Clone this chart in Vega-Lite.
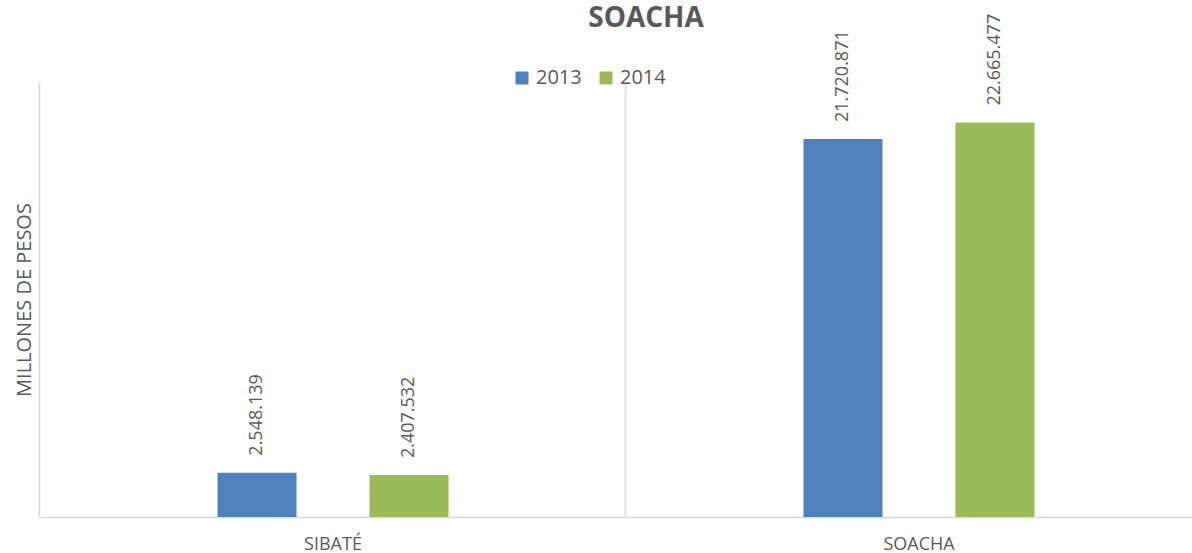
{
  "$schema": "https://vega.github.io/schema/vega-lite/v6.json",
  "autosize": "none",
  "width": 1172,
  "height": 435,
  "padding": {"left": 40, "top": 82, "right": 0, "bottom": 36},
  "background": "white",
  "config": {
    "view": {"stroke": null},
    "font": "Open Sans",
    "locale": {"number": {"decimal": ",", "thousands": ".", "grouping": [3], "currency": ["$", ""]}}
  },
  "title": {
    "text": "SOACHA",
    "anchor": "middle",
    "frame": "group",
    "font": "Open Sans",
    "fontSize": 28,
    "fontWeight": "bold",
    "color": "#595959",
    "dx": 20,
    "offset": 0,
    "dy": 19
  },
  "data": {
    "values": [
      {"municipio": "SIBATÉ", "anio": "2013", "valor": 2548139},
      {"municipio": "SIBATÉ", "anio": "2014", "valor": 2407532},
      {"municipio": "SOACHA", "anio": "2013", "valor": 21720871},
      {"municipio": "SOACHA", "anio": "2014", "valor": 22665477}
    ]
  },
  "encoding": {
    "x": {
      "field": "municipio",
      "type": "nominal",
      "sort": null,
      "scale": {"paddingInner": 0.087, "paddingOuter": 0.0435},
      "axis": {
        "title": null,
        "labelAngle": 0,
        "labelFont": "Open Sans",
        "labelFontSize": 18,
        "labelColor": "#595959",
        "labelPadding": 18,
        "ticks": false,
        "domainColor": "#d9d9d9",
        "domainWidth": 1.5,
        "grid": true,
        "gridColor": "#d9d9d9",
        "gridWidth": 1.5,
        "bandPosition": -0.0477
      }
    },
    "xOffset": {
      "field": "anio",
      "type": "nominal",
      "scale": {"paddingInner": 0.48, "paddingOuter": 1}
    },
    "y": {
      "field": "valor",
      "type": "quantitative",
      "scale": {"domain": [0, 25000000], "nice": false},
      "axis": {
        "title": "MILLONES DE PESOS",
        "titleFont": "Open Sans",
        "titleFontSize": 20,
        "titleFontWeight": "normal",
        "titleColor": "#595959",
        "titlePadding": 6,
        "labels": false,
        "ticks": false,
        "domain": false,
        "grid": false
      }
    }
  },
  "layer": [
    {
      "mark": {"type": "bar"},
      "encoding": {
        "color": {
          "field": "anio",
          "type": "nominal",
          "scale": {"domain": ["2013", "2014"], "range": ["#4F81BD", "#9BBB59"]},
          "legend": {
            "title": null,
            "orient": "none",
            "direction": "horizontal",
            "legendX": 472,
            "legendY": -14,
            "symbolType": "square",
            "symbolSize": 169,
            "symbolStrokeWidth": 0,
            "labelFont": "Open Sans",
            "labelFontSize": 20,
            "labelColor": "#595959",
            "labelOffset": 4,
            "columnPadding": 14
          }
        }
      }
    },
    {
      "mark": {
        "type": "text",
        "angle": -90,
        "align": "left",
        "baseline": "middle",
        "dx": 17,
        "font": "Open Sans",
        "fontSize": 18,
        "color": "#595959"
      },
      "encoding": {
        "text": {"field": "valor", "type": "quantitative", "format": ",d"}
      }
    }
  ]
}
